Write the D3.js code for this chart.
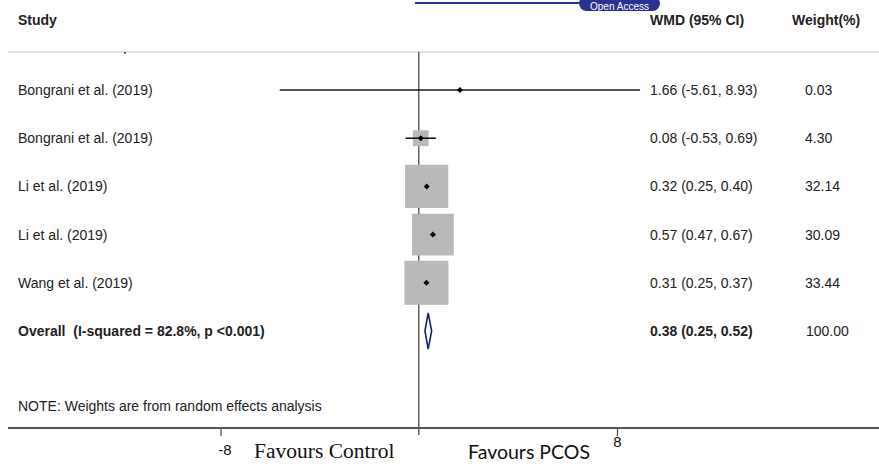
<!DOCTYPE html>
<html>
<head>
<meta charset="utf-8">
<script src="https://cdn.jsdelivr.net/npm/d3@7"></script>
<style>
  html, body { margin: 0; padding: 0; background: #fff; }
  svg { display: block; }
  text { white-space: pre; }
</style>
</head>
<body>
<svg id="chart" width="879" height="464"></svg>
<script>
// ---- data ----
const studies = ["Bongrani et al. (2019)", "Bongrani et al. (2019)", "Li et al. (2019)", "Li et al. (2019)", "Wang et al. (2019)"];
const wmd = [1.66, 0.08, 0.32, 0.57, 0.31];
const lower = [-5.61, -0.53, 0.25, 0.47, 0.25];
const upper = [8.93, 0.69, 0.40, 0.67, 0.37];
const weights = [0.03, 4.30, 32.14, 30.09, 33.44];
const overallLabel = "Overall  (I-squared = 82.8%, p <0.001)";
const overallEst = 0.38, overallLo = 0.25, overallHi = 0.52, overallWeight = 100.00;
const xTicks = [-8, 8];
const note = "NOTE: Weights are from random effects analysis";

const svg = d3.select("#chart");
const font = "'Liberation Sans', Arial, sans-serif";
const textColor = "#222";

const x = d3.scaleLinear().domain([-8, 8]).range([220.5, 617]);
const rowIdx = d3.range(studies.length + 1);
const y = d3.scalePoint().domain(rowIdx).range([90, 331]);
const side = d3.scaleSqrt().domain([0, d3.max(weights)]).range([0, 44]);

const loc = d3.formatLocale({decimal: ".", thousands: ",", grouping: [3], currency: ["", ""], minus: "-"});
const fmt2 = loc.format(".2f");
const fmtInt = loc.format("d");
const ciText = (e, l, h) => `${fmt2(e)} (${fmt2(l)}, ${fmt2(h)})`;

// Open Access badge (top)
svg.append("line").attr("x1", 415).attr("x2", 584).attr("y1", 3).attr("y2", 3)
  .attr("stroke", "#2a3192").attr("stroke-width", 2);
svg.append("rect").attr("x", 579).attr("y", -4).attr("width", 81).attr("height", 15).attr("rx", 7.5)
  .attr("fill", "#2a3192");
svg.append("text").attr("x", 619.5).attr("y", 9.5).attr("text-anchor", "middle")
  .attr("font-family", font).attr("font-size", 10).attr("fill", "#fff").text("Open Access");

// headers
const hdr = svg.append("g").attr("font-family", font).attr("font-size", 14)
  .attr("font-weight", "bold").attr("fill", textColor);
hdr.append("text").attr("x", 18).attr("y", 25).text("Study");
hdr.append("text").attr("x", 650).attr("y", 25).text("WMD (95% CI)");
hdr.append("text").attr("x", 792).attr("y", 25).text("Weight(%)");

// top rule
svg.append("line").attr("x1", 8).attr("x2", 879).attr("y1", 52).attr("y2", 52)
  .attr("stroke", "#c8c8c8").attr("stroke-width", 1.2);
svg.append("rect").attr("x", 124).attr("y", 52).attr("width", 2).attr("height", 2).attr("fill", "#666");

// bottom axis
const axisY = 428;
const axisG = svg.append("g").attr("transform", `translate(0,${axisY})`)
  .call(d3.axisBottom(x).tickValues(xTicks).tickSize(8).tickFormat(fmtInt));
axisG.select(".domain").remove();
axisG.selectAll(".tick line").attr("stroke", "#444").attr("stroke-width", 1.2);
axisG.selectAll(".tick text").attr("font-family", font).attr("font-size", 15).attr("fill", "#111")
  .attr("dy", null).attr("y", (d) => d < 0 ? 27 : 19).attr("x", (d) => d < 0 ? 4 : 0);
svg.append("line").attr("x1", 8).attr("x2", 879).attr("y1", axisY).attr("y2", axisY)
  .attr("stroke", "#555").attr("stroke-width", 2);

// null line
svg.append("line").attr("x1", x(0)).attr("x2", x(0)).attr("y1", 52).attr("y2", 435)
  .attr("stroke", "#555").attr("stroke-width", 1.4);

// study rows
const rows = svg.append("g");
studies.forEach((s, i) => {
  const cy = y(i);
  const sz = side(weights[i]);
  rows.append("rect").attr("x", x(wmd[i]) - sz / 2).attr("y", cy - sz / 2)
    .attr("width", sz).attr("height", sz).attr("fill", "#b9b9b9");
  rows.append("line").attr("x1", x(lower[i])).attr("x2", x(upper[i]))
    .attr("y1", cy).attr("y2", cy).attr("stroke", "#1a1a1a").attr("stroke-width", 1.6);
  rows.append("path")
    .attr("d", `M${x(wmd[i])},${cy - 3}L${x(wmd[i]) + 3},${cy}L${x(wmd[i])},${cy + 3}L${x(wmd[i]) - 3},${cy}Z`)
    .attr("fill", "#000");
  rows.append("text").attr("x", 18).attr("y", cy + 5).attr("font-family", font).attr("font-size", 14)
    .attr("fill", textColor).text(s);
  rows.append("text").attr("x", 650).attr("y", cy + 5).attr("font-family", font).attr("font-size", 14)
    .attr("fill", textColor).text(ciText(wmd[i], lower[i], upper[i]));
  rows.append("text").attr("x", 805).attr("y", cy + 5).attr("font-family", font).attr("font-size", 14)
    .attr("fill", textColor).text(fmt2(weights[i]));
});

// overall row
const oy = y(studies.length);
svg.append("path")
  .attr("d", `M${x(overallLo)},${oy}L${x(overallEst)},${oy - 18}L${x(overallHi)},${oy}L${x(overallEst)},${oy + 18}Z`)
  .attr("fill", "none").attr("stroke", "#1c1f7a").attr("stroke-width", 1.6);
svg.append("text").attr("x", 18).attr("y", oy + 5).attr("font-family", font).attr("font-size", 14)
  .attr("font-weight", "bold").attr("fill", textColor).text(overallLabel);
svg.append("text").attr("x", 650).attr("y", oy + 5).attr("font-family", font).attr("font-size", 14)
  .attr("font-weight", "bold").attr("fill", textColor).text(ciText(overallEst, overallLo, overallHi));
svg.append("text").attr("x", 806).attr("y", oy + 5).attr("font-family", font).attr("font-size", 14)
  .attr("fill", textColor).text(fmt2(overallWeight));

// note
svg.append("text").attr("x", 18).attr("y", 411).attr("font-family", font).attr("font-size", 14)
  .attr("fill", textColor).text(note);

// favours labels
svg.append("text").attr("x", 254).attr("y", 458).attr("font-family", "'Liberation Serif', 'Times New Roman', serif")
  .attr("font-size", 21.5).attr("fill", "#111").text("Favours Control");
svg.append("text").attr("x", 468).attr("y", 459).attr("font-family", "Lato, 'Open Sans', sans-serif")
  .attr("font-size", 19.5).attr("fill", "#111").text("Favours PCOS");
</script>
</body>
</html>
